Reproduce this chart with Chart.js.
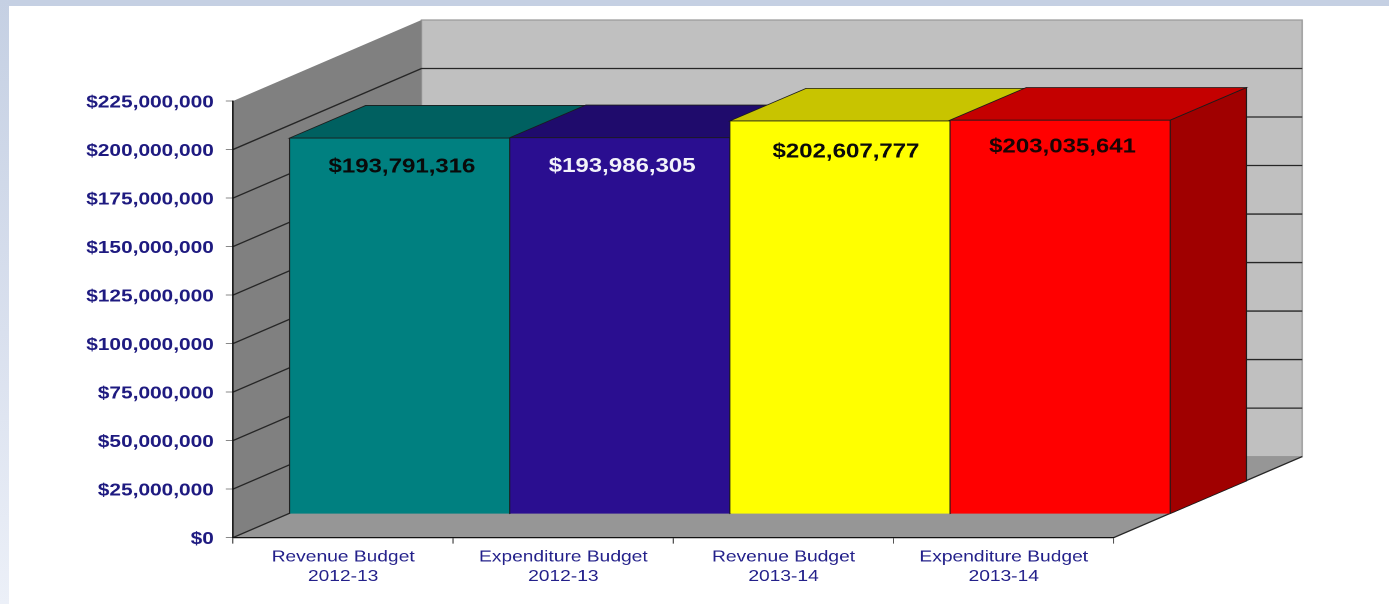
<!DOCTYPE html>
<html>
<head>
<meta charset="utf-8">
<title>Budget chart</title>
<script src="https://cdn.jsdelivr.net/npm/chart.js@4"></script>
<style>
  html, body { margin: 0; padding: 0; width: 1389px; height: 604px; overflow: hidden; background: #fff; }
  #edge-top { position: absolute; left: 0; top: 0; width: 1389px; height: 6px; background: #c5d0e3; }
  #edge-left { position: absolute; left: 0; top: 0; width: 9px; height: 604px; background: linear-gradient(#c5d0e3, #d9e0ee 55%, #ecf0f8); }
  /* the picture is stretched sideways, text included, and a little soft */
  #stretch { position: absolute; left: 0; top: 0; width: 1157.5px; height: 604px; transform: scaleX(1.2); transform-origin: 0 0; filter: blur(0.35px); }
</style>
</head>
<body>
<div id="edge-top"></div>
<div id="edge-left"></div>
<div id="stretch"><canvas id="budget-chart" width="1157" height="604"></canvas></div>
<script>
var categories = [
  ['Revenue Budget', '2012-13'],
  ['Expenditure Budget', '2012-13'],
  ['Revenue Budget', '2013-14'],
  ['Expenditure Budget', '2013-14']
];
var budgetValues = [193791316, 193986305, 202607777, 203035641];
var yTickStep = 25000000;
var yMax = 225000000;

var FRONT_COLORS = ['#008080', '#2a0e90', '#ffff00', '#ff0000'];
var TOP_COLORS = ['#006060', '#1f0b6c', '#c8c400', '#c40000'];
var SIDE_COLORS = ['#006060', '#1a0960', '#a8a400', '#a00000'];
var LABEL_COLORS = ['#0a0a0a', '#f2f2fa', '#0a0a0a', '#1a0505'];
var LABEL_NUDGE = [[2, 29], [2, 29], [5, 31], [2, 27]];

var WALL_DX = 157, WALL_DY = 81;
var BAR_SHIFT_X = 47, BAR_SHIFT_Y = 23.5;
var BAR_DX = 63.5, BAR_DY = 32.6;

function fillPoly(ctx, pts, fill, stroke, lw) {
  ctx.beginPath();
  ctx.moveTo(pts[0][0], pts[0][1]);
  for (var i = 1; i < pts.length; i++) ctx.lineTo(pts[i][0], pts[i][1]);
  ctx.closePath();
  ctx.fillStyle = fill;
  ctx.fill();
  if (stroke) {
    ctx.strokeStyle = stroke;
    ctx.lineWidth = lw || 1;
    ctx.stroke();
  }
}

var box3d = {
  id: 'box3d',
  beforeDraw: function(chart) {
    var ctx = chart.ctx, a = chart.chartArea, yScale = chart.scales.y;
    var l = a.left, r = a.right, t = a.top, b = a.bottom;
    ctx.save();
    fillPoly(ctx, [[l + WALL_DX, t - WALL_DY], [r + WALL_DX, t - WALL_DY], [r + WALL_DX, b - WALL_DY], [l + WALL_DX, b - WALL_DY]], '#c0c0c0', '#9a9a9a', 1.2);
    fillPoly(ctx, [[l, t], [l + WALL_DX, t - WALL_DY], [l + WALL_DX, b - WALL_DY], [l, b]], '#808080');
    fillPoly(ctx, [[l, b], [r, b], [r + WALL_DX, b - WALL_DY], [l + WALL_DX, b - WALL_DY]], '#969696');

    ctx.strokeStyle = '#262626';
    ctx.lineWidth = 1.3;
    yScale.ticks.forEach(function(tick) {
      if (tick.value === yMax) return;
      var y = yScale.getPixelForValue(tick.value);
      ctx.beginPath();
      ctx.moveTo(l, y);
      ctx.lineTo(l + WALL_DX, y - WALL_DY);
      if (tick.value !== 0) ctx.lineTo(r + WALL_DX, y - WALL_DY);
      ctx.stroke();
    });

    ctx.beginPath();
    ctx.moveTo(r, b);
    ctx.lineTo(r + WALL_DX, b - WALL_DY);
    ctx.stroke();
    ctx.restore();
  },
  beforeDatasetsDraw: function(chart) {
    var ctx = chart.ctx;
    var bars = chart.getDatasetMeta(0).data;
    ctx.save();
    ctx.translate(BAR_SHIFT_X, -BAR_SHIFT_Y);
    bars.forEach(function(bar, i) {
      var x0 = bar.x - bar.width / 2, x1 = bar.x + bar.width / 2;
      fillPoly(ctx, [[x1, bar.y], [x1 + BAR_DX, bar.y - BAR_DY], [x1 + BAR_DX, bar.base - BAR_DY], [x1, bar.base]], SIDE_COLORS[i], '#1c1c1c', 0.8);
      fillPoly(ctx, [[x0, bar.y], [x0 + BAR_DX, bar.y - BAR_DY], [x1 + BAR_DX, bar.y - BAR_DY], [x1, bar.y]], TOP_COLORS[i], '#1c1c1c', 0.8);
    });
    ctx.restore();
  },
  beforeDatasetDraw: function(chart) {
    chart.ctx.save();
    chart.ctx.translate(BAR_SHIFT_X, -BAR_SHIFT_Y);
  },
  afterDatasetDraw: function(chart) {
    chart.ctx.restore();
  },
  afterDatasetsDraw: function(chart) {
    var ctx = chart.ctx;
    var bars = chart.getDatasetMeta(0).data;
    ctx.save();
    ctx.font = 'bold 20px "Liberation Sans", Arial, sans-serif';
    ctx.textAlign = 'center';
    ctx.textBaseline = 'middle';
    bars.forEach(function(bar, i) {
      ctx.fillStyle = LABEL_COLORS[i];
      ctx.fillText(formatDollars(budgetValues[i]), bar.x + BAR_SHIFT_X + LABEL_NUDGE[i][0], bar.y - BAR_SHIFT_Y + LABEL_NUDGE[i][1]);
    });
    ctx.restore();
  }
};

function formatDollars(v) {
  return '$' + Number(v).toLocaleString('en-US');
}

Chart.defaults.font.family = '"Liberation Sans", Arial, sans-serif';

new Chart(document.getElementById('budget-chart'), {
  type: 'bar',
  data: {
    labels: categories,
    datasets: [{
      data: budgetValues,
      backgroundColor: FRONT_COLORS,
      borderColor: '#1c1c1c',
      borderWidth: 0.8,
      barPercentage: 1,
      categoryPercentage: 1,
      clip: false
    }]
  },
  plugins: [box3d],
  options: {
    responsive: false,
    animation: false,
    devicePixelRatio: 2,
    layout: { padding: { left: 0, right: 228.8, top: 101, bottom: 0 } },
    plugins: { legend: { display: false }, tooltip: { enabled: false } },
    scales: {
      x: {
        afterFit: function(scale) { scale.height = 66.4; },
        grid: { drawOnChartArea: false, offset: true, color: '#555', tickLength: 6 },
        border: { color: '#111', width: 1.2 },
        ticks: { color: '#23208a', font: { size: 16 }, padding: 4, maxRotation: 0, autoSkip: false }
      },
      y: {
        min: 0,
        max: yMax,
        afterFit: function(scale) { scale.width = 194.2; },
        grid: { drawOnChartArea: false, color: '#888', tickLength: 6 },
        border: { color: '#111', width: 1.2 },
        ticks: {
          stepSize: yTickStep,
          color: '#1e1a80',
          font: { size: 17.4, weight: 'bold' },
          padding: 10,
          labelOffset: 1.5,
          callback: function(v) { return formatDollars(v); }
        }
      }
    }
  }
});
</script>
</body>
</html>
